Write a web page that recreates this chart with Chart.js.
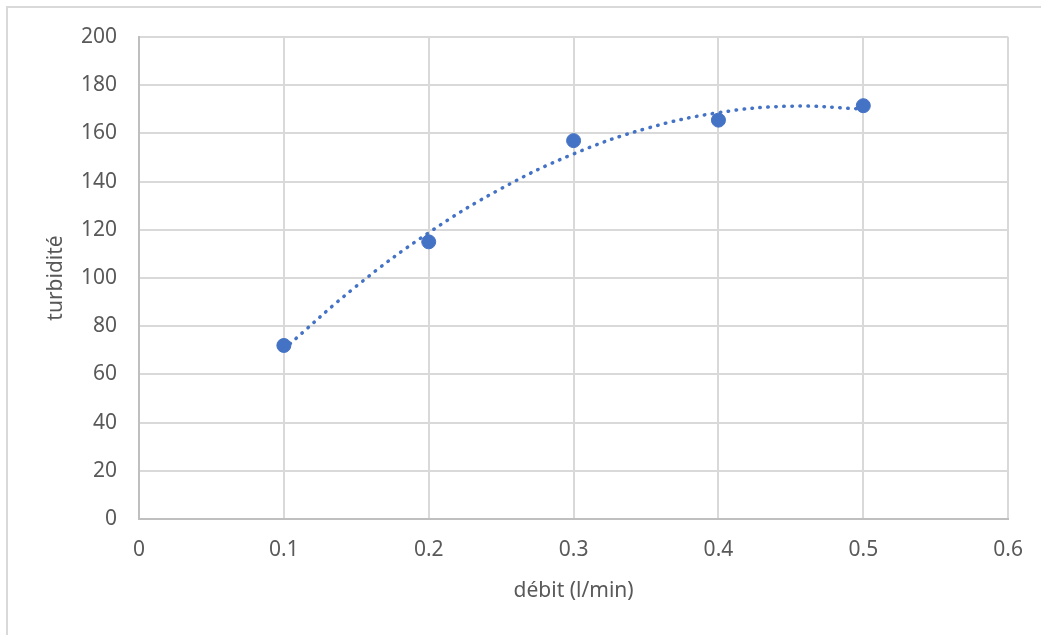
<!DOCTYPE html>
<html>
<head>
<meta charset="utf-8">
<script src="https://cdn.jsdelivr.net/npm/chart.js@4/dist/chart.umd.min.js"></script>
<style>
    body{margin:0;background:#fff;}
    #frame{position:absolute;left:6px;top:6px;width:1100px;height:700px;border-top:2px solid #d9d9d9;border-left:2px solid #d9d9d9;}
    #chart{position:absolute;left:0;top:0;}
</style>
</head>
<body>
<div id="frame"></div>
<canvas id="chart" width="1041" height="635"></canvas>
<script>
// measured points
const debit = [0.1, 0.2, 0.3, 0.4, 0.5];
const turbidite = [72, 115, 157, 165.5, 171.5];

// dotted trend curve
const trendX = [0.1, 0.15, 0.2, 0.25, 0.3, 0.35, 0.4, 0.45, 0.5];
const trendY = [70.5, 96.6, 118.8, 137.1, 151.5, 162.0, 168.6, 171.3, 170.1];

const xTicks = ['0', '0.1', '0.2', '0.3', '0.4', '0.5', '0.6'];

const blue = '#4472C4';
const grey = '#595959';
const font = {family: '"Noto Sans", sans-serif', size: 21};

let pts = debit.map((x, i) => ({x: x, y: turbidite[i]}));
let trend = trendX.map((x, i) => ({x: x, y: trendY[i]}));

new Chart(document.getElementById('chart'), {
    type: 'scatter',
    data: {
        datasets: [
            {
                data: pts,
                backgroundColor: blue,
                borderColor: blue,
                pointRadius: 7,
                pointHoverRadius: 7
            },
            {
                data: trend,
                showLine: true,
                pointRadius: 0,
                borderColor: blue,
                borderWidth: 3.5,
                borderCapStyle: 'round',
                borderDash: [0.5, 7.5],
                tension: 0.4,
                fill: false
            }
        ]
    },
    options: {
        responsive: false,
        animation: false,
        layout: {padding: {left: 43, top: 37, right: 32, bottom: 31}},
        plugins: {legend: {display: false}, tooltip: {enabled: false}},
        scales: {
            x: {
                min: 0, max: 0.6,
                ticks: {
                    stepSize: 0.1,
                    color: grey, font: font, padding: 18,
                    callback: (v) => xTicks[Math.round(v * 10)]
                },
                grid: {color: '#d9d9d9', lineWidth: 2, drawTicks: false},
                border: {color: '#bfbfbf', width: 2},
                title: {display: true, text: 'débit (l/min)', color: grey, font: font, padding: 0},
                afterFit: (s) => { s.height = 85; }
            },
            y: {
                min: 0, max: 200,
                ticks: {stepSize: 20, color: grey, font: font, padding: 22},
                grid: {color: '#d9d9d9', lineWidth: 2, drawTicks: false},
                border: {color: '#bfbfbf', width: 2},
                title: {display: true, text: 'turbidité', color: grey, font: font, padding: 0},
                afterFit: (s) => { s.width = 96; }
            }
        }
    }
});
</script>
</body>
</html>
